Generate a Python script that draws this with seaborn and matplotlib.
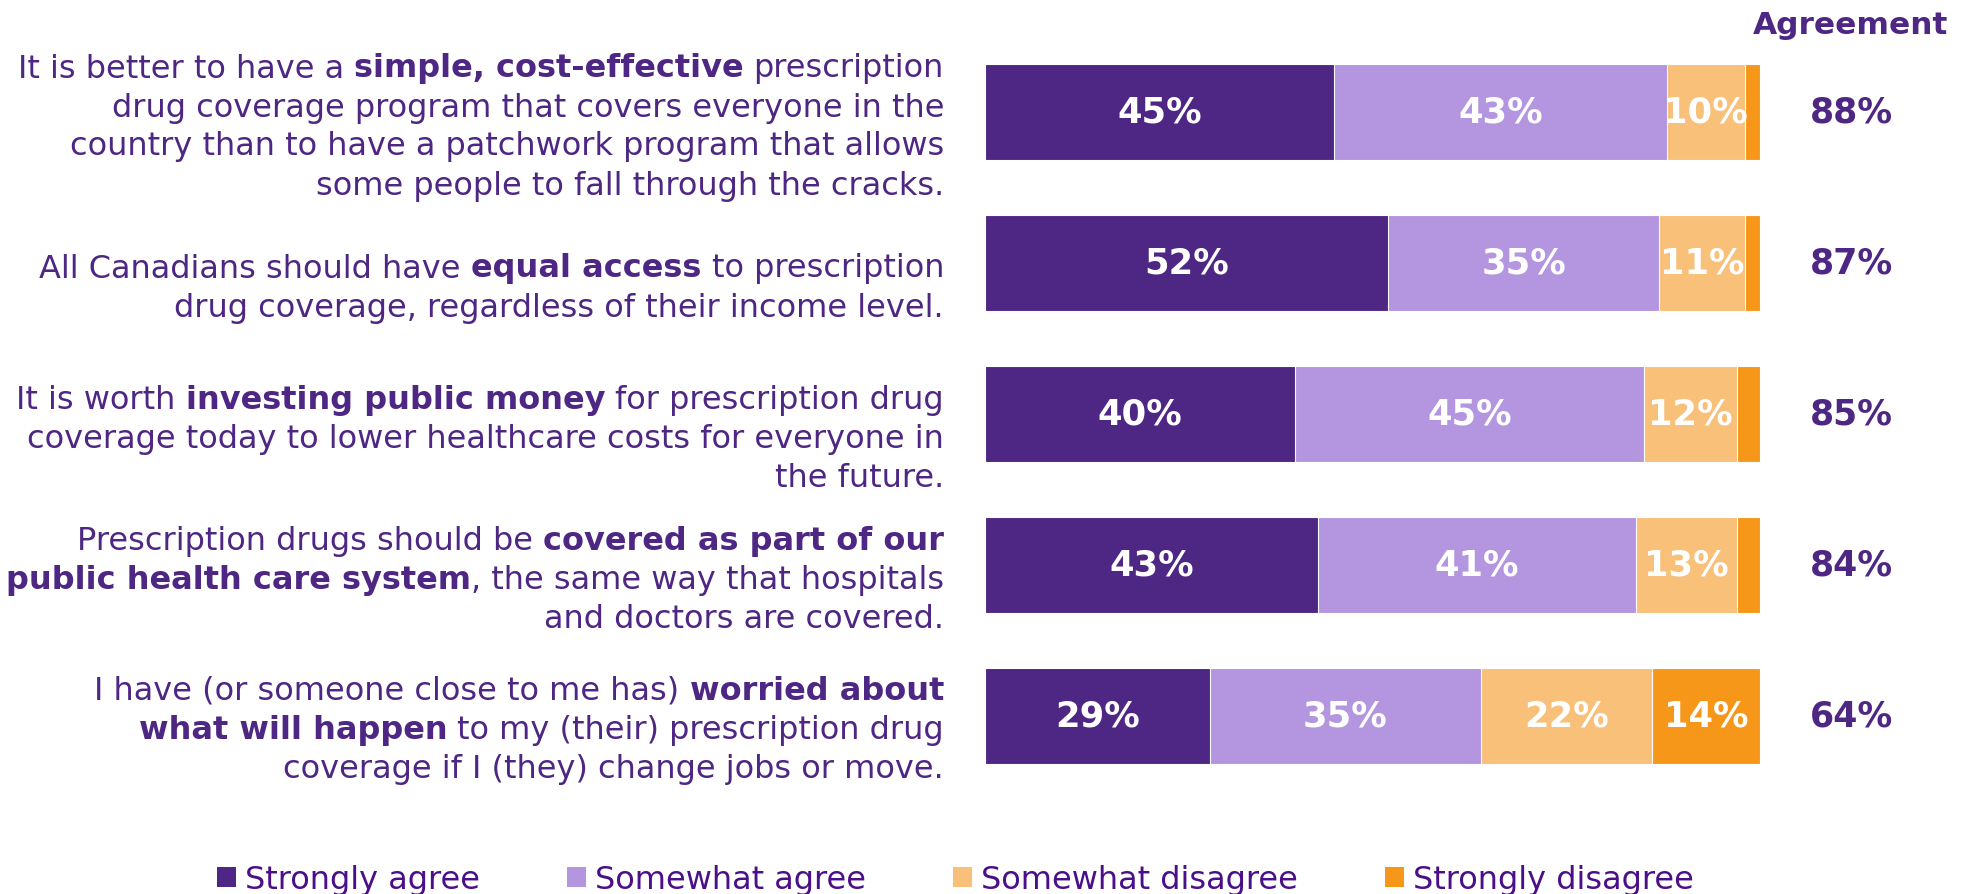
import matplotlib
matplotlib.use("Agg")
import matplotlib.pyplot as plt
import matplotlib.transforms as mtransforms
from matplotlib.patches import Patch
import numpy as np
import pandas as pd
import seaborn as sns

# ---- data ------------------------------------------------------------------
categories = ["simple", "equal", "invest", "public", "worried"]
series_names = ["Strongly agree", "Somewhat agree", "Somewhat disagree", "Strongly disagree"]
strongly_agree = [45, 52, 40, 43, 29]
somewhat_agree = [43, 35, 45, 41, 35]
somewhat_disagree = [10, 11, 12, 13, 22]
strongly_disagree = [2, 2, 3, 3, 14]
agreement = [88, 87, 85, 84, 64]

# statement text, one list of (piece, bold) per line
statements = [
    [[("It is better to have a", False), ("simple, cost-effective", True), ("prescription", False)],
     [("drug coverage program that covers everyone in the", False)],
     [("country than to have a patchwork program that allows", False)],
     [("some people to fall through the cracks.", False)]],
    [[("All Canadians should have", False), ("equal access", True), ("to prescription", False)],
     [("drug coverage, regardless of their income level.", False)]],
    [[("It is worth", False), ("investing public money", True), ("for prescription drug", False)],
     [("coverage today to lower healthcare costs for everyone in", False)],
     [("the future.", False)]],
    [[("Prescription drugs should be", False), ("covered as part of our", True)],
     [("public health care system", True), (", the same way that hospitals", False)],
     [("and doctors are covered.", False)]],
    [[("I have (or someone close to me has)", False), ("worried about", True)],
     [("what will happen", True), ("to my (their) prescription drug", False)],
     [("coverage if I (they) change jobs or move.", False)]],
]

colors = ["#4E2683", "#B495E0", "#F8C078", "#F7971A"]
text_purple = "#4E2683"
legend_purple = "#4B0F8A"

df = pd.DataFrame({
    "statement": categories,
    series_names[0]: strongly_agree,
    series_names[1]: somewhat_agree,
    series_names[2]: somewhat_disagree,
    series_names[3]: strongly_disagree,
})
cum = df[series_names].cumsum(axis=1)

# ---- figure -----------------------------------------------------------------
sns.set_style("white")
plt.rcParams["font.family"] = ["DejaVu Sans"]

FW, FH = 1972, 895
fig = plt.figure(figsize=(FW / 100, FH / 100), dpi=100)
ax = fig.add_axes([985 / FW, 1 - 792.5 / FH, 775 / FW, 755 / FH])

# stacked bars: draw cumulative totals from the outside in
for name, color in reversed(list(zip(series_names, colors))):
    sns.barplot(x=cum[name], y=df["statement"], color=color, orient="h",
                width=0.64, saturation=1, errorbar=None,
                edgecolor="white", linewidth=0.8, ax=ax)

ax.set_xlim(0, 100)
ax.set_ylim(4.5, -0.5)
ax.set_axis_off()

# value labels inside the segments
for i in range(len(categories)):
    left = 0
    for name in series_names:
        v = df.loc[i, name]
        if v >= 5:
            ax.text(left + v / 2, i, f"{v}%", ha="center", va="center",
                    color="white", fontsize=25.5, fontweight="bold")
        left += v

# agreement column
blend = mtransforms.blended_transform_factory(fig.transFigure, ax.transData)
fig.text(1851 / FW, 1 - 25 / FH, "Agreement", ha="center", va="center",
         color=text_purple, fontsize=22.5, fontweight="bold")
for i, a in enumerate(agreement):
    ax.text(1851 / FW, i, f"{a}%", transform=blend, ha="center", va="center",
            color=text_purple, fontsize=25, fontweight="bold")

# statement labels with bold phrases, right aligned
renderer = fig.canvas.get_renderer()
label_size = 23
x_right = 944
pitch = 39
offsets = [11, 21, 21, 11, 10]


def text_width(s, bold):
    t = fig.text(0, 0, s, fontsize=label_size, fontweight="bold" if bold else "normal")
    w = t.get_window_extent(renderer=renderer).width
    t.remove()
    return w


space_w = text_width("a a", False) - text_width("aa", False)

for i, lines in enumerate(statements):
    _, yc = ax.transData.transform((0, i))
    yc -= offsets[i]
    n = len(lines)
    for j, pieces in enumerate(lines):
        y = yc + (n - 1) / 2 * pitch - j * pitch
        widths = [text_width(p, b) for p, b in pieces]
        gaps = [0] + [0 if p.startswith(",") else space_w for p, _ in pieces[1:]]
        x = x_right - sum(widths) - sum(gaps)
        for (p, b), w, g in zip(pieces, widths, gaps):
            x += g
            fig.text(x / FW, y / FH, p, ha="left", va="center_baseline",
                     fontsize=label_size, color=text_purple,
                     fontweight="bold" if b else "normal")
            x += w

# legend
handles = [Patch(facecolor=c, edgecolor="none", label=n) for n, c in zip(series_names, colors)]
fig.legend(handles=handles, loc="center", bbox_to_anchor=(0.4845, 0.016), ncol=4,
           frameon=False, fontsize=23, labelcolor=legend_purple,
           handlelength=0.6, handleheight=0.6, handletextpad=0.3, columnspacing=2.7)

fig.savefig("out.png", dpi=100)
